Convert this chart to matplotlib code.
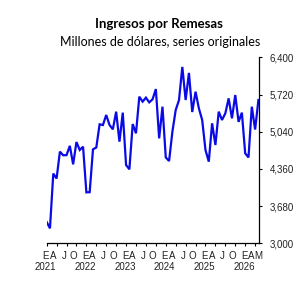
import matplotlib
matplotlib.use("Agg")
import matplotlib.pyplot as plt

# monthly remittances, Jan 2021 - May 2026 (millions of USD)
remesas = [
    3390, 3274, 4275, 4185, 4676, 4610, 4612, 4782, 4444, 4852, 4706, 4767,
    3932, 3935, 4718, 4752, 5175, 5163, 5346, 5163, 5084, 5407, 4858, 5389,
    4432, 4353, 5181, 5011, 5681, 5590, 5663, 5577, 5632, 5820, 4919, 5498,
    4570, 4505, 5041, 5437, 5620, 6225, 5620, 6115, 5400, 5772, 5468, 5255,
    4706, 4493, 5194, 4797, 5407, 5255, 5377, 5650, 5285, 5711, 5220, 5389,
    4645, 4570, 5498, 5080, 5620,
]
years = ["2021", "2022", "2023", "2024", "2025", "2026"]
month_letters = ["E", "A", "J", "O"]
last_letters = ["E", "A", "M"]
yticks = [3000, 3680, 4360, 5040, 5720, 6400]

title = "Ingresos por Remesas"
subtitle = "Millones de dólares, series originales"

fig = plt.figure(figsize=(3.07, 2.81), dpi=100)
ax = fig.add_axes([0.152, 0.134, 0.693, 0.662])

months = list(range(len(remesas)))
ax.plot(months, remesas, color="#0a0ae6", linewidth=1.6, solid_joinstyle="miter")

ax.set_xlim(0, 64.3)
ax.set_ylim(3000, 6400)

for s in ["left", "top"]:
    ax.spines[s].set_visible(False)
for s in ["right", "bottom"]:
    ax.spines[s].set_linewidth(0.9)
    ax.spines[s].set_color("black")

ax.yaxis.tick_right()
ax.set_yticks(yticks)
ax.set_yticklabels([f"{v:,}" for v in yticks], fontsize=7, family="Liberation Sans",
                   color="#222222")
ax.tick_params(axis="y", direction="out", length=2.5, width=0.8, pad=5)

ax.set_xticks(range(0, 64, 3))
ax.set_xticklabels([])
ax.tick_params(axis="x", direction="out", length=2.5, width=0.8)

# month initials and years under the axis
tr = ax.get_xaxis_transform()
offs = [0, 2.2, 5.5, 8.3]
for n, yr in enumerate(years):
    base = 12 * n
    if yr == "2026":
        letters, pos = last_letters, [0, 2.0, 4.2]
    else:
        letters, pos = month_letters, offs
    for let, o in zip(letters, pos):
        ax.text(base + o - 0.3, -0.067, let, transform=tr, ha="center", va="center",
                fontsize=7, family="Liberation Sans", color="#222222")
    ax.text(base - 0.3, -0.129, yr, transform=tr, ha="center", va="center",
            fontsize=7, family="Liberation Sans", color="#222222")

fig.text(0.518, 0.899, title, ha="center", va="baseline", fontsize=9.5,
         fontweight="bold", family="Lato")
fig.text(0.521, 0.837, subtitle, ha="center", va="baseline", fontsize=9,
         family="Lato")

fig.savefig("out.png", dpi=100)
